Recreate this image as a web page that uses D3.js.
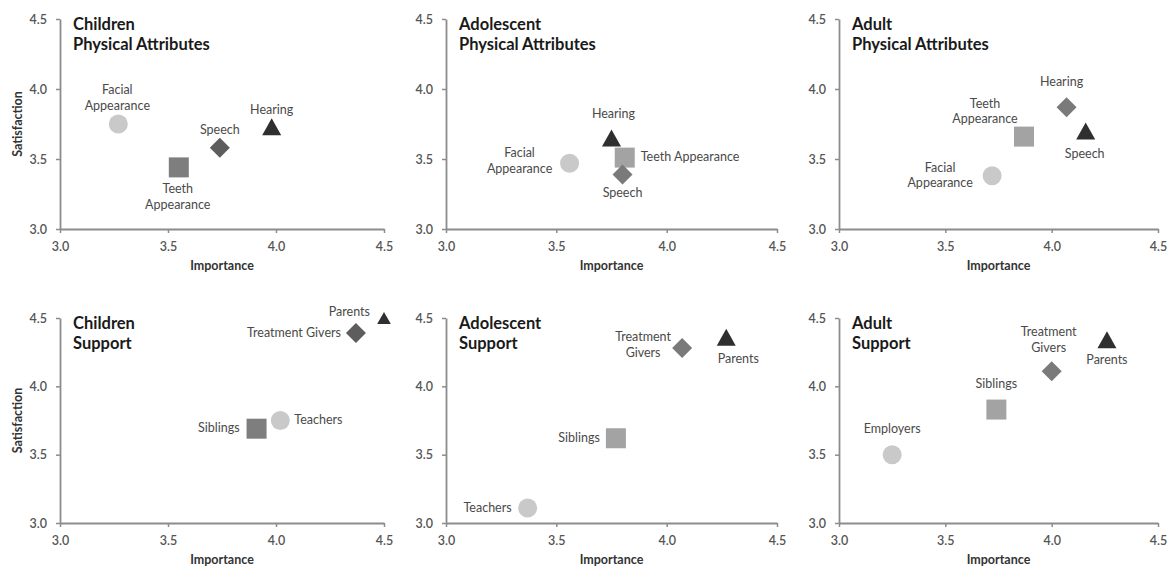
<!DOCTYPE html>
<html>
<head>
<meta charset="utf-8">
<script src="https://cdn.jsdelivr.net/npm/d3@7"></script>
<style>
  html, body { margin: 0; padding: 0; background: #fff; }
  svg { display: block; font-family: Lato, "Open Sans", sans-serif; }
</style>
</head>
<body>
<svg id="chart" width="1173" height="569"></svg>
<script>
// Axis ticks shared by every panel
const ticks = [3.0, 3.5, 4.0, 4.5];
const ageGroups = ["Children", "Adolescent", "Adult"];
const topics = ["Physical Attributes", "Support"];

// Physical attributes: importance (x) vs satisfaction (y)
const childPhysItems = ["Facial Appearance", "Teeth Appearance", "Speech", "Hearing"];
const childPhysImportance = [3.27, 3.55, 3.74, 3.98];
const childPhysSatisfaction = [3.75, 3.44, 3.58, 3.73];

const adolPhysItems = ["Facial Appearance", "Teeth Appearance", "Speech", "Hearing"];
const adolPhysImportance = [3.56, 3.81, 3.80, 3.75];
const adolPhysSatisfaction = [3.47, 3.51, 3.39, 3.65];

const adultPhysItems = ["Facial Appearance", "Teeth Appearance", "Hearing", "Speech"];
const adultPhysImportance = [3.72, 3.87, 4.07, 4.16];
const adultPhysSatisfaction = [3.38, 3.66, 3.87, 3.70];

// Support sources
const childSupportItems = ["Teachers", "Siblings", "Treatment Givers", "Parents"];
const childSupportImportance = [4.02, 3.91, 4.37, 4.50];
const childSupportSatisfaction = [3.75, 3.69, 4.39, 4.50];

const adolSupportItems = ["Teachers", "Siblings", "Treatment Givers", "Parents"];
const adolSupportImportance = [3.37, 3.77, 4.07, 4.27];
const adolSupportSatisfaction = [3.11, 3.62, 4.28, 4.36];

const adultSupportItems = ["Employers", "Siblings", "Treatment Givers", "Parents"];
const adultSupportImportance = [3.25, 3.74, 4.00, 4.26];
const adultSupportSatisfaction = [3.50, 3.83, 4.11, 4.34];

// ---- layout ----
const cols = [[60, 384], [446, 777], [839, 1158]];
const rows = [[19, 229], [318, 523]];

const panels = [
  { row: 0, col: 0, items: childPhysItems, xs: childPhysImportance, ys: childPhysSatisfaction },
  { row: 0, col: 1, items: adolPhysItems, xs: adolPhysImportance, ys: adolPhysSatisfaction },
  { row: 0, col: 2, items: adultPhysItems, xs: adultPhysImportance, ys: adultPhysSatisfaction },
  { row: 1, col: 0, items: childSupportItems, xs: childSupportImportance, ys: childSupportSatisfaction },
  { row: 1, col: 1, items: adolSupportItems, xs: adolSupportImportance, ys: adolSupportSatisfaction },
  { row: 1, col: 2, items: adultSupportItems, xs: adultSupportImportance, ys: adultSupportSatisfaction }
];

// Label placement per panel, per point (offset from the marker centre)
const labelLayout = [
  [ {a: "middle", dx: -1, dy: -30, wrap: true}, {a: "middle", dx: -1, dy: 26, wrap: true},
    {a: "middle", dx: 0, dy: -14}, {a: "middle", dx: 0, dy: -13} ],
  [ {a: "middle", dx: -50, dy: -6, wrap: true}, {a: "start", dx: 16, dy: 3},
    {a: "middle", dx: 0, dy: 23}, {a: "middle", dx: 2, dy: -20} ],
  [ {a: "middle", dx: -52, dy: -4, wrap: true}, {a: "middle", dx: -39, dy: -29, wrap: true},
    {a: "middle", dx: -5, dy: -21}, {a: "middle", dx: -1, dy: 27} ],
  [ {a: "start", dx: 14, dy: 3}, {a: "end", dx: -17, dy: 3},
    {a: "end", dx: -15, dy: 4}, {a: "end", dx: -14, dy: -2, small: true} ],
  [ {a: "end", dx: -16, dy: 4}, {a: "end", dx: -16, dy: 4},
    {a: "middle", dx: -39, dy: -7, wrap: true}, {a: "middle", dx: 12, dy: 26} ],
  [ {a: "middle", dx: 0, dy: -22}, {a: "middle", dx: 0, dy: -22},
    {a: "middle", dx: -3, dy: -35, wrap: true}, {a: "middle", dx: 0, dy: 24} ]
];

// Marker shape by series order: circle, square, diamond, triangle
function markerPath(kind, s) {
  const p = d3.path();
  if (kind === 0) { p.arc(0, 0, 9.5 * s, 0, 2 * Math.PI); }
  else if (kind === 1) { p.rect(-10 * s, -10 * s, 20 * s, 20 * s); }
  else if (kind === 2) { p.moveTo(0, -10 * s); p.lineTo(10 * s, 0); p.lineTo(0, 10 * s); p.lineTo(-10 * s, 0); p.closePath(); }
  else { p.moveTo(0, -8.5 * s); p.lineTo(9.5 * s, 8.5 * s); p.lineTo(-9.5 * s, 8.5 * s); p.closePath(); }
  return p.toString();
}
function markerColor(kind, col) {
  if (kind === 0) return "#c9c9c9";
  if (kind === 1) return col === 0 ? "#7e7e7e" : "#a3a3a3";
  if (kind === 2) return col === 0 ? "#5d5d5d" : "#7a7a7a";
  return "#2f2f2f";
}

const svg = d3.select("#chart");
const fmt = d3.format(".1f");

panels.forEach((p, i) => {
  const [x0, x1] = cols[p.col];
  const [y0, y1] = rows[p.row];
  const x = d3.scaleLinear().domain([3, 4.5]).range([x0, x1]);
  const y = d3.scaleLinear().domain([3, 4.5]).range([y1, y0]);
  const g = svg.append("g");

  // axes
  const xAxis = g.append("g").attr("transform", `translate(0,${y1})`)
    .call(d3.axisBottom(x).tickValues(ticks).tickFormat(fmt).tickSizeInner(4).tickSizeOuter(0).tickPadding(9));
  const yAxis = g.append("g").attr("transform", `translate(${x0},0)`)
    .call(d3.axisLeft(y).tickValues(ticks).tickFormat(fmt).tickSizeInner(4).tickSizeOuter(0).tickPadding(9));
  [xAxis, yAxis].forEach(ax => {
    ax.select(".domain").attr("stroke", "#8c8c8c").attr("stroke-width", 1.8);
    ax.selectAll(".tick line").attr("stroke", "#8c8c8c").attr("stroke-width", 1.5);
    ax.selectAll(".tick text").attr("fill", "#555").attr("font-size", 12.5)
      .attr("font-family", "Lato, sans-serif").attr("font-weight", 600);
  });

  // axis titles
  g.append("text").attr("x", (x0 + x1) / 2).attr("y", y1 + 41)
    .attr("text-anchor", "middle").attr("font-size", 12.5).attr("font-weight", 700)
    .attr("fill", "#333").text("Importance");
  if (p.col === 0) {
    g.append("text").attr("transform", `translate(22,${(y0 + y1) / 2}) rotate(-90)`)
      .attr("text-anchor", "middle").attr("font-size", 12.5).attr("font-weight", 700)
      .attr("fill", "#333").text("Satisfaction");
  }

  // panel title
  const title = g.append("text").attr("font-size", 16.5).attr("font-weight", 700).attr("fill", "#1a1a1a");
  title.append("tspan").attr("x", x0 + 13).attr("y", y0 + 11).text(ageGroups[p.col]);
  title.append("tspan").attr("x", x0 + 13).attr("y", y0 + 31).text(topics[p.row]);

  // markers and labels
  p.items.forEach((name, k) => {
    const cx = x(p.xs[k]), cy = y(p.ys[k]);
    const L = labelLayout[i][k];
    g.append("path").attr("transform", `translate(${cx},${cy})`)
      .attr("d", markerPath(k, L.small ? 0.72 : 1))
      .attr("fill", markerColor(k, p.col));
    const lines = L.wrap ? [name.slice(0, name.indexOf(" ")), name.slice(name.indexOf(" ") + 1)] : [name];
    const t = g.append("text").attr("text-anchor", L.a).attr("font-size", 12.5)
      .attr("fill", "#4a4a4a");
    lines.forEach((ln, j) => {
      t.append("tspan").attr("x", cx + L.dx).attr("y", cy + L.dy + j * 15.5).text(ln);
    });
  });
});
</script>
</body>
</html>
